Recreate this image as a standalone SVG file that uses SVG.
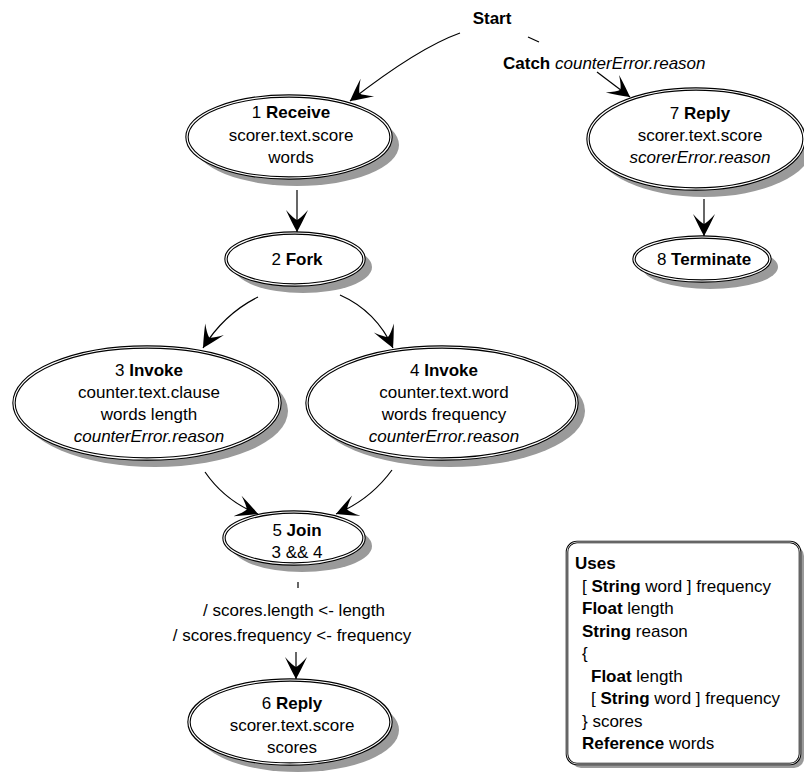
<svg xmlns="http://www.w3.org/2000/svg" width="804" height="772" viewBox="0 0 804 772">
<defs>
<marker id="ah" viewBox="-24 -12 26 24" refX="0" refY="0" markerWidth="26" markerHeight="24" markerUnits="userSpaceOnUse" orient="auto">
<path d="M0,0 Q-9,-5 -22,-11 Q-14,-4 -12,0 Q-14,4 -22,11 Q-9,5 0,0 Z" fill="#000"/>
</marker>
</defs>
<style>
text { font-family: "Liberation Sans", Arial, sans-serif; font-size: 17px; fill: #000; }
.c { text-anchor: middle; }
.b { font-weight: bold; }
.i { font-style: italic; }
.sh { fill: #9a9a9a; stroke: none; }
.o1 { fill: #fff; stroke: #000; stroke-width: 3.4; }
.o2 { fill: none; stroke: #fff; stroke-width: 1.2; }
.e { fill: none; stroke: #000; stroke-width: 1.2; }
.a { fill: none; stroke: #000; stroke-width: 1.2; marker-end: url(#ah); }
</style>
<rect width="804" height="772" fill="#fff"/>

<g id="connectors">
<path class="a" d="M460,33 Q418,48 350,101"/>
<path class="e" d="M528,37 L539,42"/>
<path class="a" d="M597,72 L630,97"/>
<path class="a" d="M297,190 L297,232"/>
<path class="a" d="M258,297 Q224,314 203,348"/>
<path class="a" d="M340,295 Q376,311 393,348"/>
<path class="a" d="M205,472 Q225,501 258,514"/>
<path class="a" d="M392,470 Q370,500 336,514"/>
<path class="e" d="M298,582 L298,588"/>
<path class="a" d="M296,652 L296,679"/>
<path class="a" d="M704,199 L704,236"/>
</g>

<g id="start">
<text class="c b" x="492" y="24">Start</text>
</g>
<g id="catch-label">
<text x="503" y="69"><tspan class="b">Catch</tspan> <tspan class="i">counterError.reason</tspan></text>
</g>

<g id="n1">
<ellipse class="sh" cx="297" cy="145" rx="102" ry="41"/>
<ellipse class="o1" cx="289" cy="137" rx="102" ry="41"/>
<ellipse class="o2" cx="289" cy="137" rx="102" ry="41"/>
<text class="c" x="291" y="118">1 <tspan class="b">Receive</tspan></text>
<text class="c" x="291" y="141">scorer.text.score</text>
<text class="c" x="291" y="163">words</text>
</g>

<g id="n2">
<ellipse class="sh" cx="303" cy="267" rx="69" ry="26"/>
<ellipse class="o1" cx="295" cy="259" rx="69" ry="26"/>
<ellipse class="o2" cx="295" cy="259" rx="69" ry="26"/>
<text class="c" x="297" y="265">2 <tspan class="b">Fork</tspan></text>
</g>

<g id="n3">
<ellipse class="sh" cx="155" cy="411" rx="133" ry="56"/>
<ellipse class="o1" cx="147" cy="403" rx="133" ry="56"/>
<ellipse class="o2" cx="147" cy="403" rx="133" ry="56"/>
<text class="c" x="149" y="376">3 <tspan class="b">Invoke</tspan></text>
<text class="c" x="149" y="398">counter.text.clause</text>
<text class="c" x="149" y="420">words length</text>
<text class="c i" x="149" y="442">counterError.reason</text>
</g>

<g id="n4">
<ellipse class="sh" cx="450" cy="411" rx="135" ry="56"/>
<ellipse class="o1" cx="442" cy="403" rx="135" ry="56"/>
<ellipse class="o2" cx="442" cy="403" rx="135" ry="56"/>
<text class="c" x="444" y="376">4 <tspan class="b">Invoke</tspan></text>
<text class="c" x="444" y="398">counter.text.word</text>
<text class="c" x="444" y="420">words frequency</text>
<text class="c i" x="444" y="442">counterError.reason</text>
</g>

<g id="n5">
<ellipse class="sh" cx="302" cy="546" rx="70" ry="26"/>
<ellipse class="o1" cx="294" cy="538" rx="70" ry="26"/>
<ellipse class="o2" cx="294" cy="538" rx="70" ry="26"/>
<text class="c" x="297" y="536">5 <tspan class="b">Join</tspan></text>
<text class="c" x="297" y="558">3 &amp;&amp; 4</text>
</g>

<g id="edge-label-5-6">
<text class="c" x="294" y="616">/ scores.length &lt;- length</text>
<text class="c" x="292" y="641">/ scores.frequency &lt;- frequency</text>
</g>

<g id="n6">
<ellipse class="sh" cx="298" cy="730" rx="101" ry="42"/>
<ellipse class="o1" cx="290" cy="722" rx="101" ry="42"/>
<ellipse class="o2" cx="290" cy="722" rx="101" ry="42"/>
<text class="c" x="292" y="709">6 <tspan class="b">Reply</tspan></text>
<text class="c" x="292" y="731">scorer.text.score</text>
<text class="c" x="292" y="753">scores</text>
</g>

<g id="n7">
<ellipse class="sh" cx="704" cy="147" rx="108" ry="50"/>
<ellipse class="o1" cx="696" cy="139" rx="108" ry="50"/>
<ellipse class="o2" cx="696" cy="139" rx="108" ry="50"/>
<text class="c" x="700" y="119">7 <tspan class="b">Reply</tspan></text>
<text class="c" x="700" y="141">scorer.text.score</text>
<text class="c i" x="700" y="163">scorerError.reason</text>
</g>

<g id="n8">
<ellipse class="sh" cx="710" cy="267" rx="68" ry="22"/>
<ellipse class="o1" cx="702" cy="259" rx="68" ry="22"/>
<ellipse class="o2" cx="702" cy="259" rx="68" ry="22"/>
<text class="c" x="704" y="265">8 <tspan class="b">Terminate</tspan></text>
</g>

<g id="uses">
<rect class="sh" x="571" y="546" width="233" height="222" rx="10"/>
<rect class="o1" x="567" y="542" width="233" height="222" rx="10" style="stroke-width:2.6"/>
<rect class="o2" x="567" y="542" width="233" height="222" rx="10" style="stroke-width:0.8"/>
<text class="b" x="575" y="569">Uses</text>
<text x="582" y="591.5">[ <tspan class="b">String</tspan> word ] frequency</text>
<text x="582" y="614"><tspan class="b">Float</tspan> length</text>
<text x="582" y="636.5"><tspan class="b">String</tspan> reason</text>
<text x="582" y="659">{</text>
<text x="591" y="681.5"><tspan class="b">Float</tspan> length</text>
<text x="591" y="704">[ <tspan class="b">String</tspan> word ] frequency</text>
<text x="582" y="726.5">} scores</text>
<text x="582" y="749"><tspan class="b">Reference</tspan> words</text>
</g>
</svg>
